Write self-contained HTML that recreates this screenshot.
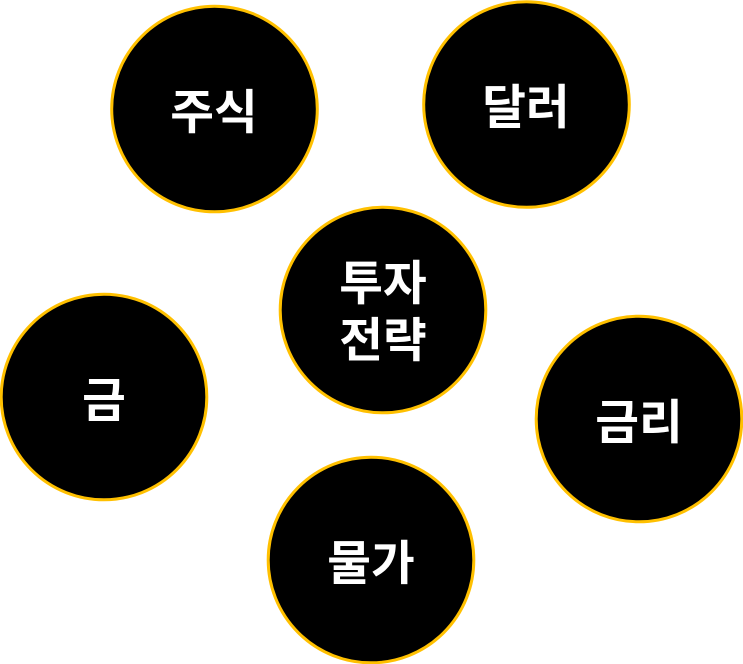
<!DOCTYPE html>
<html lang="ko">
<head>
<meta charset="utf-8">
<style>
html,body{margin:0;padding:0;background:#fff;}
svg{display:block;}
text{font-family:"Liberation Sans","Noto Sans CJK KR",sans-serif;font-weight:700;font-size:47.5px;fill:#fff;text-anchor:middle;}
circle{fill:#000;stroke:#ffc000;stroke-width:3;}
</style>
</head>
<body>
<svg width="743" height="664" viewBox="0 0 743 664" xmlns="http://www.w3.org/2000/svg">
<circle cx="214.5" cy="109" r="102.8"/>
<circle cx="526.5" cy="104.5" r="102.8"/>
<circle cx="383" cy="310" r="102.8"/>
<circle cx="104" cy="397" r="102.8"/>
<circle cx="639" cy="419" r="102.8"/>
<circle cx="371" cy="560" r="102.8"/>
<text x="214" y="129">주식</text>
<text x="526" y="124">달러</text>
<text x="383" y="300">투자</text>
<text x="383" y="357">전략</text>
<text x="104" y="417">금</text>
<text x="639" y="439">금리</text>
<text x="371" y="580">물가</text>
</svg>
</body>
</html>
